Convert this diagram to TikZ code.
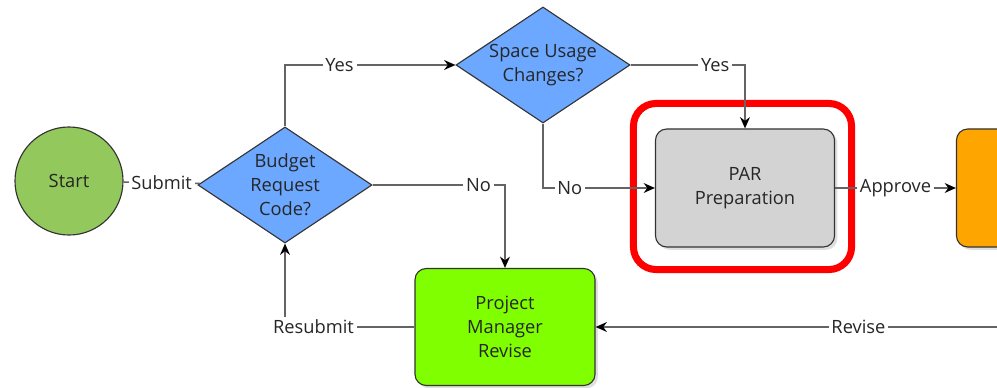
\documentclass[tikz,border=0pt]{standalone}
\usepackage{fontspec}
\setmainfont{Open Sans}
\usepackage{xcolor}
\usetikzlibrary{positioning, arrows.meta, shapes.geometric, shadows}

\definecolor{startgreen}{RGB}{146,200,92}
\definecolor{decblue}{RGB}{108,168,255}
\definecolor{pargray}{RGB}{211,211,211}
\definecolor{pmgreen}{RGB}{128,255,0}
\definecolor{apporange}{RGB}{255,165,0}
\definecolor{linegray}{RGB}{100,100,100}

\begin{document}
\begin{tikzpicture}[
  x=0.025cm, y=-0.025cm,
  every node/.style={font=\fontsize{13}{17}\selectfont, text=black!85},
  startnode/.style={circle, draw=black!80, thick, fill=startgreen,
                    minimum size=2.7cm, inner sep=0pt},
  decision/.style={diamond, aspect=1.5, draw=black!80, thick, fill=decblue,
                   minimum width=4.35cm, minimum height=2.9cm,
                   inner sep=0pt, align=center},
  task/.style={rectangle, rounded corners=8pt, draw=black!80, thick,
               minimum width=4.475cm, minimum height=2.95cm, align=center,
               drop shadow={shadow xshift=2pt, shadow yshift=-2pt,
                            fill=black!25}},
  plain/.style={draw=linegray, line width=1.1pt},
  flow/.style={plain, -{Stealth[length=8pt, width=7pt, color=black]}},
  lbl/.style={fill=white, inner sep=2pt},
]
  % Frame of the screenshot
  \useasboundingbox (0,0) rectangle (997,387);
  \clip (0,0) rectangle (997,387);

  % Shapes
  \node[startnode] (start) at (69,181) {Start};
  \node[decision] (budget) at (285,185) {Budget\\Request\\Code?};
  \node[decision] (space) at (543,65) {Space Usage\\Changes?};
  \node[task, fill=pargray] (par) at (745,188) {PAR\\Preparation};
  \node[task, fill=apporange] (approve) at (1046,188) {};
  \node[task, fill=pmgreen, minimum width=4.5cm, minimum height=2.925cm]
    (pm) at (505,327) {Project\\Manager\\Revise};

  % Highlight
  \node[draw=red, line width=5pt, rounded corners=16pt,
        minimum width=5.45cm, minimum height=4.15cm] (focus)
    at (742.5,186.5) {};

  % Connectors
  \coordinate (revfrom) at (1000,327);
  \draw[plain] (start) -- node[lbl] {Submit} (budget);
  \draw[flow] (budget.north) |- node[lbl, pos=0.66] {Yes} (space.west);
  \draw[flow] (space.east) -| node[lbl, pos=0.37] {Yes} (par.north);
  \draw[flow] (space.south) |- node[lbl, pos=0.62] {No} (par.west);
  \draw[flow] (budget.east) -| node[lbl, pos=0.4] {No} (pm.north);
  \draw[flow] (par) -- node[lbl] {Approve} (approve);
  \draw[flow] (revfrom) -- node[lbl, pos=0.35] {Revise} (pm.east);
  \draw[flow] (pm.west) -| node[lbl, pos=0.39] {Resubmit} (budget.south);

\end{tikzpicture}
\end{document}
